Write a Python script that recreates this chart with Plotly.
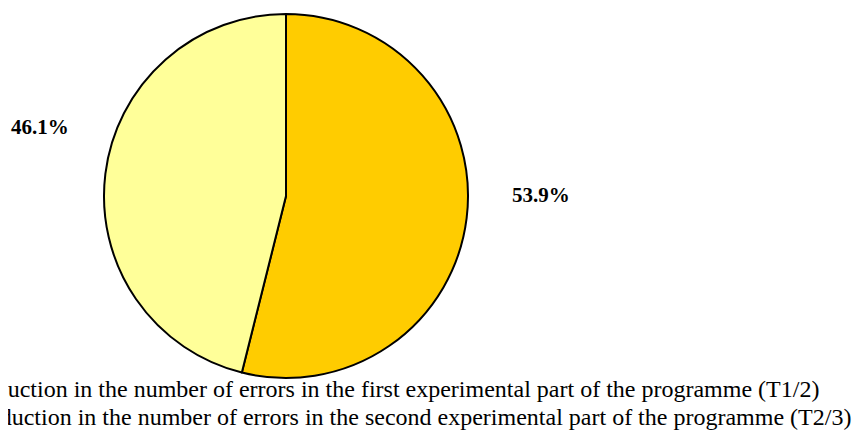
import plotly.graph_objects as go

labels = [
    "Reduction in the number of errors in the first experimental part of the programme (T1/2)",
    "Reduction in the number of errors in the second experimental part of the programme (T2/3)",
]
values = [53.9, 46.1]
colors = ["#FFCC00", "#FFFF99"]

W, H = 864, 437

fig = go.Figure(go.Pie(
    labels=labels,
    values=values,
    sort=False,
    direction="clockwise",
    rotation=0,
    marker=dict(colors=colors, line=dict(color="black", width=2)),
    textinfo="none",
    hoverinfo="label+percent",
    showlegend=False,
    domain=dict(x=[96 / W, 460 / W], y=[(H - 370) / H, (H - 6) / H]),
))

# percentage labels placed beside the pie like in the original
label_pos = [(533, 187), (32, 119)]
for v, (px_, py_) in zip(values, label_pos):
    fig.add_annotation(
        x=px_ / W, y=1 - py_ / H, xref="paper", yref="paper",
        xanchor="center", yanchor="middle",
        text=f"<b>{v:.1f}%</b>", showarrow=False,
        font=dict(family="Liberation Serif", size=21, color="black"),
    )

# legend text, clipped at the left edge as in the source image
legend_pos = [(-41.5, 381), (-37, 409)]
for lab, (px_, py_) in zip(labels, legend_pos):
    fig.add_annotation(
        x=px_ / W, y=1 - py_ / H, xref="paper", yref="paper",
        xanchor="left", yanchor="middle",
        text=lab, showarrow=False,
        font=dict(family="Liberation Serif", size=24, color="black"),
    )

fig.update_layout(
    width=W, height=H,
    margin=dict(l=0, r=0, t=0, b=0, autoexpand=False),
    paper_bgcolor="white",
    plot_bgcolor="white",
)

fig.write_html("out.html")
